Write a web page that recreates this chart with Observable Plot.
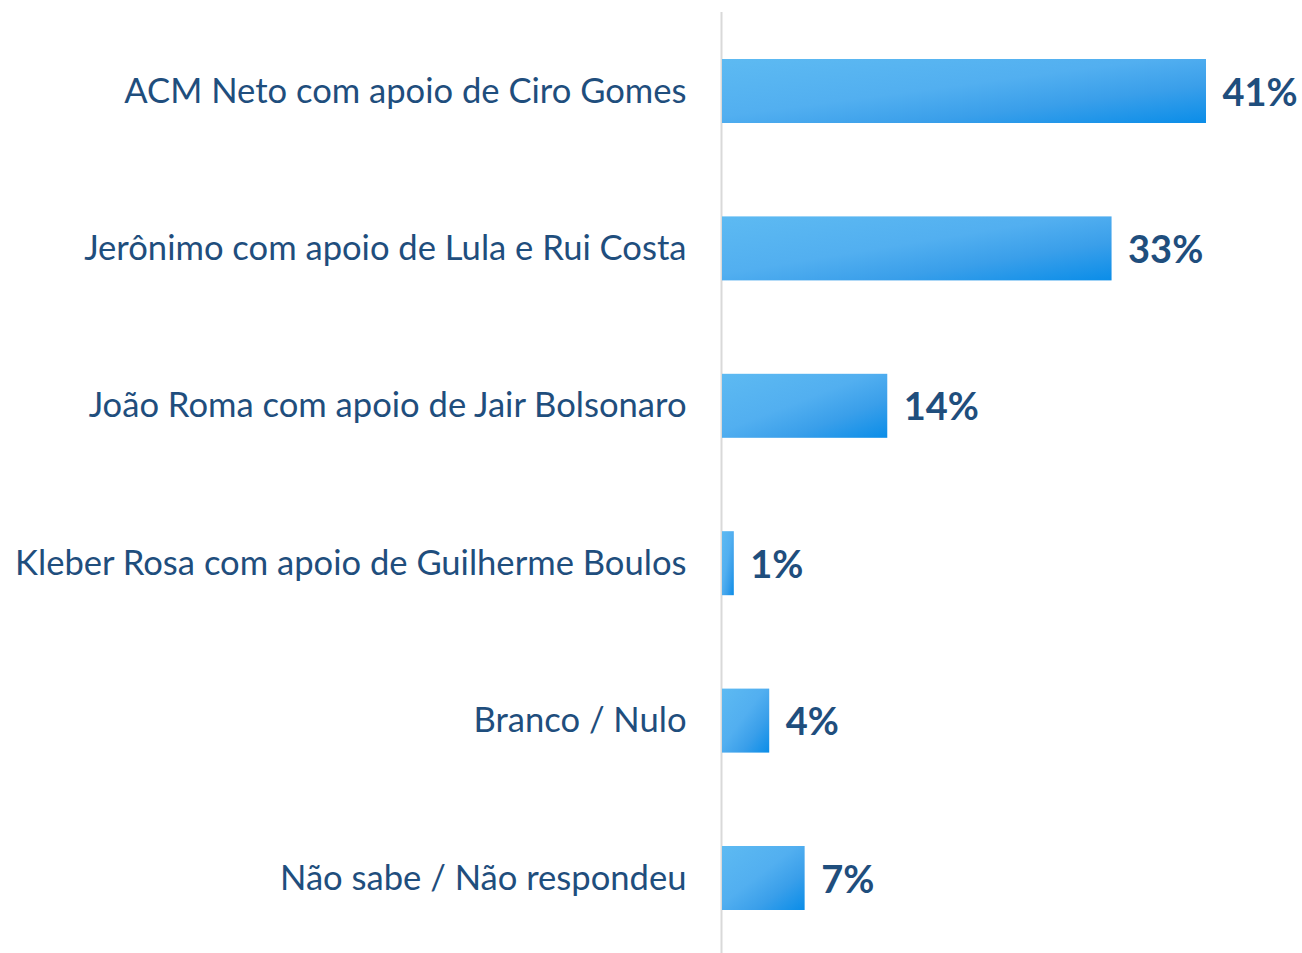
<!DOCTYPE html>
<html><head><meta charset="utf-8">
<script src="https://cdn.jsdelivr.net/npm/d3@7"></script>
<script src="https://cdn.jsdelivr.net/npm/@observablehq/plot@0.6"></script>
<style>body{margin:0;background:#fff}</style></head>
<body><div id="chart"></div>
<script>
const categories = [
  "ACM Neto com apoio de Ciro Gomes",
  "Jerônimo com apoio de Lula e Rui Costa",
  "João Roma com apoio de Jair Bolsonaro",
  "Kleber Rosa com apoio de Guilherme Boulos",
  "Branco / Nulo",
  "Não sabe / Não respondeu"
];
const values = [41, 33, 14, 1, 4, 7];
const valueLabels = ["41%", "33%", "14%", "1%", "4%", "7%"];

const data = categories.map((c, i) => ({category: c, value: values[i], label: valueLabels[i]}));

const FONT = "Lato, 'Open Sans', sans-serif";
const TEXT = "#1f4e7d";

const defs = () => {
  const d = d3.create("svg:defs");
  const g = d.append("linearGradient").attr("id", "barGrad")
    .attr("x1", 0).attr("y1", 0).attr("x2", 1).attr("y2", 1);
  g.append("stop").attr("offset", "0").attr("stop-color", "#5dbaf2");
  g.append("stop").attr("offset", "0.45").attr("stop-color", "#52aff0");
  g.append("stop").attr("offset", "0.7").attr("stop-color", "#3a9fea");
  g.append("stop").attr("offset", "1").attr("stop-color", "#0a8de8");
  return d.node();
};

const chart = Plot.plot({
  width: 1302,
  height: 953,
  marginLeft: 722,
  marginRight: 96,
  marginTop: 12,
  marginBottom: 0,
  style: {fontFamily: FONT, background: "#fff"},
  x: {domain: [0, 41], axis: null},
  y: {domain: categories, range: [12, 957], round: false, paddingInner: 0.5934, paddingOuter: 0.2986, axis: null},
  marks: [
    defs,
    Plot.ruleX([0], {stroke: "#d9d9d9", strokeWidth: 2, dx: -1}),
    Plot.barX(data, {x: "value", y: "category", fill: "url(#barGrad)"}),
    Plot.text(data, {x: 0, y: "category", text: "category", textAnchor: "end", dx: -36, fontSize: 34.6, fill: TEXT, fontFamily: FONT}),
    Plot.text(data, {x: "value", y: "category", text: "label", textAnchor: "start", dx: 16, dy: 2, fontSize: 38, fontWeight: "bold", fill: TEXT, fontFamily: FONT})
  ]
});
document.getElementById("chart").appendChild(chart);
</script>
</body></html>
